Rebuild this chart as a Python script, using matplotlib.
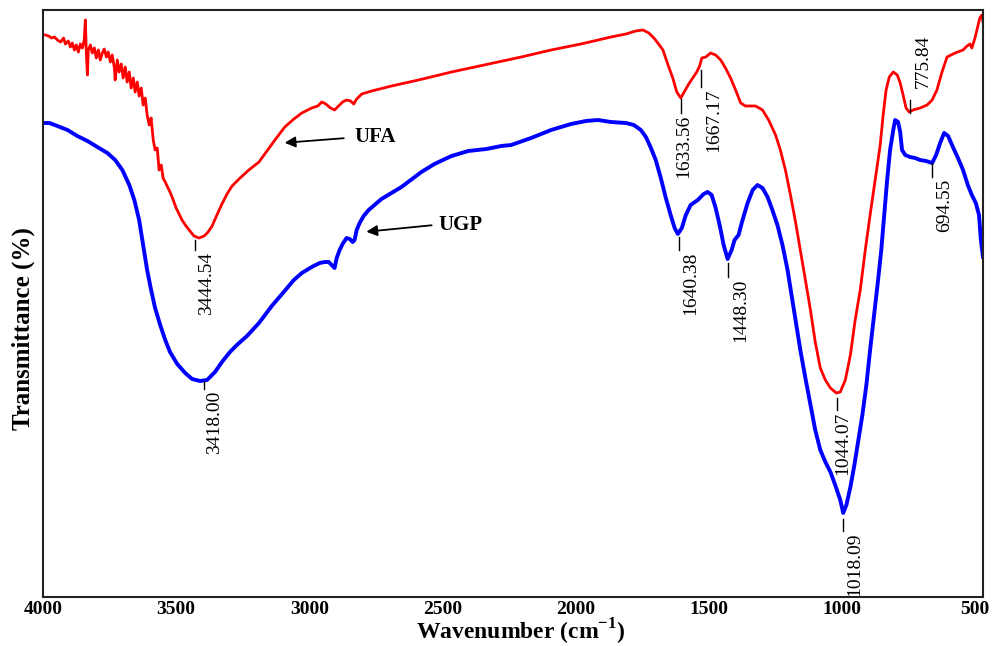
import matplotlib
matplotlib.use('Agg')
import matplotlib.pyplot as plt

# UFA spectrum (red)
ufa_wn = [3991, 3979, 3968, 3957, 3946, 3934, 3923, 3916, 3905, 3897, 3890, 3882, 3875, 3867,
          3860, 3852, 3845, 3841, 3837, 3833, 3830, 3822, 3815, 3807, 3800, 3792, 3785, 3777,
          3770, 3762, 3755, 3747, 3740, 3732, 3729, 3721, 3714, 3706, 3699, 3691, 3684, 3676,
          3669, 3661, 3654, 3646, 3639, 3631, 3624, 3616, 3609, 3601, 3594, 3586, 3579, 3571,
          3564, 3556, 3549, 3541, 3534, 3523, 3511, 3500, 3489, 3478, 3463, 3448, 3433, 3414,
          3395, 3380, 3365, 3347, 3328, 3309, 3290, 3260, 3227, 3189, 3159, 3129, 3092, 3058,
          3028, 2991, 2968, 2953, 2938, 2920, 2905, 2890, 2875, 2860, 2845, 2833, 2822, 2803,
          2766, 2691, 2590, 2466, 2343, 2204, 2092, 1980, 1867, 1811, 1774, 1747, 1725, 1706,
          1691, 1672, 1654, 1635, 1620, 1605, 1590, 1575, 1560, 1545, 1534, 1526, 1511, 1493,
          1474, 1455, 1437, 1418, 1399, 1380, 1362, 1324, 1298, 1275, 1249, 1231, 1212, 1193,
          1174, 1156, 1137, 1118, 1100, 1081, 1062, 1043, 1021, 1006, 987, 968, 950, 931,
          912, 894, 875, 856, 845, 834, 822, 807, 792, 781, 770, 759, 747, 733,
          706, 680, 661, 643, 624, 605, 575, 545, 530, 519, 512, 500, 489, 482,
          474, 470]
ufa_t = [56.2, 56.1, 55.9, 56.0, 55.7, 55.5, 55.9, 55.3, 55.6, 55.0, 55.4, 54.7, 55.2, 54.5,
         55.3, 54.9, 55.7, 57.7, 54.2, 52.2, 54.7, 55.2, 54.4, 54.9, 53.9, 54.7, 53.7, 54.4,
         54.8, 54.0, 54.5, 53.5, 54.2, 52.9, 51.7, 53.7, 52.5, 53.3, 51.9, 53.0, 51.5, 52.5,
         50.9, 51.9, 50.5, 51.5, 50.1, 50.9, 49.2, 49.9, 48.2, 47.2, 47.9, 45.7, 44.7, 44.9,
         42.7, 43.2, 41.9, 41.5, 41.1, 40.5, 39.7, 38.9, 38.3, 37.7, 37.1, 36.6, 36.1, 35.9,
         36.1, 36.5, 37.1, 38.2, 39.3, 40.3, 41.1, 41.9, 42.7, 43.5, 44.6, 45.7, 47.0, 47.8,
         48.4, 48.9, 49.1, 49.5, 49.3, 48.9, 48.7, 49.1, 49.5, 49.7, 49.6, 49.3, 49.8, 50.3,
         50.6, 51.1, 51.7, 52.5, 53.2, 54.0, 54.7, 55.3, 56.0, 56.3, 56.6, 56.7, 56.4, 55.9,
         55.4, 54.7, 53.3, 51.9, 50.5, 49.9, 50.6, 51.3, 51.9, 52.5, 53.1, 53.9, 54.0, 54.4,
         54.2, 53.7, 52.9, 51.9, 50.7, 49.4, 49.1, 49.1, 48.7, 47.7, 46.2, 44.7, 42.7, 40.2,
         37.5, 34.7, 31.7, 28.7, 25.5, 22.9, 21.7, 20.9, 20.4, 20.5, 21.7, 24.2, 27.7, 30.7,
         34.7, 38.2, 41.7, 45.2, 48.2, 50.7, 52.0, 52.5, 52.2, 51.4, 50.2, 48.9, 48.5, 48.7,
         48.9, 49.2, 49.7, 50.7, 52.5, 54.0, 54.4, 54.7, 55.1, 55.3, 54.9, 55.9, 57.1, 57.9,
         58.2, 57.5]

# UGP spectrum (blue)
ugp_wn = [3991, 3976, 3946, 3908, 3871, 3833, 3796, 3758, 3729, 3702, 3676, 3657, 3639, 3624,
          3609, 3594, 3579, 3560, 3541, 3523, 3496, 3466, 3440, 3410, 3384, 3354, 3328, 3298,
          3272, 3234, 3189, 3141, 3096, 3058, 3028, 2991, 2961, 2942, 2927, 2912, 2905, 2897,
          2886, 2875, 2860, 2848, 2837, 2830, 2822, 2811, 2796, 2777, 2729, 2654, 2579, 2530,
          2466, 2403, 2335, 2279, 2242, 2167, 2092, 2017, 1961, 1916, 1867, 1811, 1781, 1755,
          1736, 1717, 1699, 1680, 1661, 1643, 1628, 1616, 1601, 1586, 1568, 1541, 1519, 1504,
          1489, 1474, 1459, 1444, 1429, 1414, 1403, 1388, 1373, 1354, 1335, 1317, 1298, 1279,
          1261, 1242, 1223, 1204, 1189, 1174, 1156, 1137, 1118, 1100, 1081, 1062, 1043, 1025,
          1006, 995, 983, 968, 953, 938, 923, 908, 894, 879, 864, 852, 841, 830,
          819, 807, 800, 789, 781, 774, 762, 744, 725, 706, 684, 661, 646, 631,
          616, 601, 583, 564, 545, 527, 512, 497, 485, 478, 470]
ugp_t = [47.4, 47.4, 47.1, 46.7, 46.1, 45.6, 45.0, 44.4, 43.7, 42.7, 41.2, 39.7, 37.7, 35.2,
         32.7, 30.7, 28.9, 27.2, 25.7, 24.5, 23.3, 22.4, 21.8, 21.6, 21.7, 22.5, 23.5, 24.5,
         25.2, 26.1, 27.4, 29.1, 30.5, 31.7, 32.4, 33.0, 33.4, 33.5, 33.5, 33.1, 32.9, 33.9,
         34.7, 35.3, 35.9, 35.8, 35.5, 35.7, 36.7, 37.4, 38.1, 38.7, 39.8, 41.0, 42.5, 43.3,
         44.1, 44.6, 44.8, 45.1, 45.2, 45.9, 46.7, 47.3, 47.6, 47.7, 47.5, 47.4, 47.2, 46.7,
         46.0, 44.9, 43.7, 41.9, 39.9, 38.2, 36.9, 36.3, 36.9, 38.2, 39.2, 39.7, 40.3, 40.5,
         40.2, 38.9, 37.2, 35.2, 33.8, 34.7, 35.7, 36.2, 37.7, 39.4, 40.7, 41.2, 40.9, 40.0,
         38.7, 37.2, 35.2, 32.7, 30.2, 27.7, 24.7, 21.9, 19.2, 16.7, 14.7, 13.5, 12.5, 11.2,
         9.7, 8.4, 9.2, 11.0, 13.2, 15.7, 18.2, 21.2, 24.7, 28.2, 31.7, 34.7, 38.2, 41.7,
         44.7, 46.7, 47.7, 47.5, 46.5, 44.7, 44.2, 44.0, 43.9, 43.7, 43.6, 43.4, 44.2, 45.4,
         46.4, 46.1, 45.0, 43.9, 42.7, 41.2, 40.2, 39.4, 38.2, 35.7, 34.0]

# peak labels: text, wavenumber of marker, marker top/bottom
peak_labels = ['3444.54', '3418.00', '1633.56', '1667.17', '775.84',
               '1640.38', '1448.30', '694.55', '1044.07', '1018.09']
peak_wn = [3429, 3395, 1605, 1530, 744, 1613, 1429, 661, 1017, 995]
peak_top = [35.7, 21.6, 49.8, 52.7, 49.7, 36.0, 33.4, 43.4, 19.9, 7.8]
peak_bot = [34.7, 20.8, 48.4, 51.0, 48.4, 34.7, 32.0, 42.0, 18.7, 6.6]

xticks = [4000, 3500, 3000, 2500, 2000, 1500, 1000, 500]

plt.rcParams['font.family'] = 'Liberation Serif'
plt.rcParams['mathtext.fontset'] = 'custom'
plt.rcParams['mathtext.rm'] = 'Liberation Serif'
plt.rcParams['mathtext.bf'] = 'Liberation Serif:bold'

fig = plt.figure(figsize=(10.03, 6.46), dpi=100)
ax = fig.add_axes([43/1003, 49/646, 940/1003, 587/646])

ax.plot(ufa_wn, ufa_t, color='#ff0000', lw=2.0)
ax.plot(ugp_wn, ugp_t, color='#0000ff', lw=2.8)

ax.set_xlim(4000, 470)
ax.set_ylim(0, 58.7)

# marker ticks + rotated labels (text offset from marker, in data units)
txt_dx = [-45, -41, -11, -49, -49, -45, -49, -48, -19, -45]
for lab, wn, top, bot, dx in zip(peak_labels, peak_wn, peak_top, peak_bot, txt_dx):
    ax.plot([wn, wn], [bot, top], color='black', lw=1.0)
    if lab == '775.84':
        ax.text(wn + dx, top + 1.2, lab, rotation=90, ha='center', va='bottom', fontsize=14)
    else:
        ax.text(wn + dx, bot - 0.2, lab, rotation=90, ha='center', va='top', fontsize=14)

# series names with arrows
ax.annotate('', xy=(3103, 45.4), xytext=(2860, 45.9),
            arrowprops=dict(arrowstyle='-|>', color='black', lw=1.3, mutation_scale=16))
ax.text(2830, 45.95, 'UFA', ha='left', va='center', fontsize=15, fontweight='bold')
ax.annotate('', xy=(2796, 36.5), xytext=(2530, 37.2),
            arrowprops=dict(arrowstyle='-|>', color='black', lw=1.3, mutation_scale=16))
ax.text(2515, 37.25, 'UGP', ha='left', va='center', fontsize=15, fontweight='bold')

ax.set_xticks(xticks)
ax.set_xticklabels([str(t) for t in xticks])
ax.set_yticks([])
ax.tick_params(axis='x', length=0, pad=3, labelsize=14)
for lbl in ax.get_xticklabels():
    lbl.set_fontweight('bold')

for sp in ax.spines.values():
    sp.set_linewidth(1.5)
    sp.set_color('#222222')

ax.set_xlabel(r'Wavenumber (cm$^{\mathbf{-1}}$)', fontsize=17, fontweight='bold')
ax.xaxis.set_label_coords(0.508, -0.033)
ax.set_ylabel('Transmittance (%)', fontsize=18, fontweight='bold')
ax.yaxis.set_label_coords(-0.008, 0.458)

fig.savefig('out.png', dpi=100)
